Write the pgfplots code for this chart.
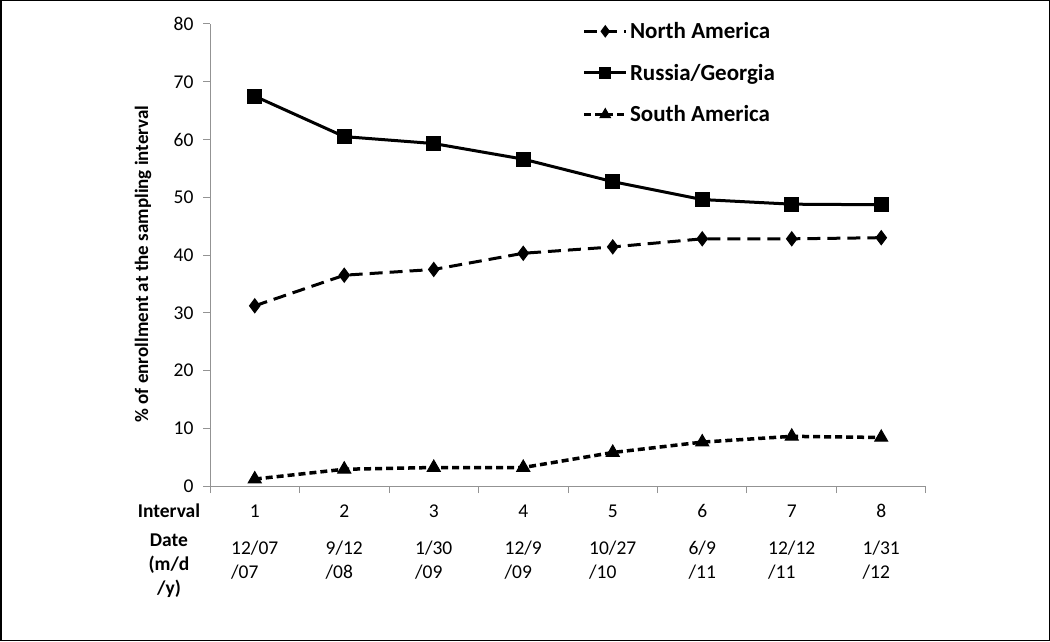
\documentclass[border=0pt]{standalone}
\usepackage{pgfplots}
\pgfplotsset{compat=1.18}
\usepackage{fontspec}
\setmainfont{Carlito}
\newcommand{\dl}[2]{\begin{tabular}[t]{@{}l@{}}#1\\#2\end{tabular}}
\begin{document}
\begin{tikzpicture}[x=1pt,y=1pt]
\useasboundingbox (0,0) rectangle (1050,641);
\draw[line width=1.5pt] (0.75,0.75) rectangle (1049.25,640.25);
\begin{axis}[
  scale only axis, width=716pt, height=462pt,
  at={(210pt,155pt)}, anchor=south west,
  xmin=0.5, xmax=8.5, ymin=0, ymax=80,
  axis lines=left,
  axis line style={-, draw=gray!85, line width=1pt},
  ytick={0,10,...,80},
  xtick={0.5,1.5,...,8.5},
  xticklabels={%
    {1\\[13pt]\dl{12/07}{/07}},
    {2\\[13pt]\dl{9/12}{/08}},
    {3\\[13pt]\dl{1/30}{/09}},
    {4\\[13pt]\dl{12/9}{/09}},
    {5\\[13pt]\dl{10/27}{/10}},
    {6\\[13pt]\dl{6/9}{/11}},
    {7\\[13pt]\dl{12/12}{/11}},
    {8\\[13pt]\dl{1/31}{/12}},
    {}},
  xticklabel style={xshift=44.75pt, align=center, anchor=north, yshift=-8pt},
  yticklabel style={xshift=-6pt},
  tick align=outside, major tick length=7pt,
  tick style={draw=gray!85, line width=1pt},
  ticklabel style={font=\fontsize{19.5}{24}\selectfont},
  /pgf/number format/assume math mode=true,
  clip=false,
  legend style={at={(rel axis cs:0.52,1.008)}, anchor=north west, draw=none, fill=none,
    font=\fontsize{23}{26}\selectfont\bfseries, row sep=20pt, inner sep=0pt},
  legend cell align=left,
  legend image code/.code={\draw[mark repeat=2, mark phase=2, #1, every mark/.append style={scale=0.8}] plot coordinates {(0pt,0pt) (21pt,0pt) (42pt,0pt)};},
]
\addplot[black, line width=3pt, dash pattern=on 13pt off 7pt, mark=diamond*, mark size=7pt, mark options={solid, line width=1pt}]
  coordinates {(1,31.2) (2,36.5) (3,37.5) (4,40.3) (5,41.4) (6,42.8) (7,42.8) (8,43.0)};
\addlegendentry{North America}
\addplot[black, line width=3pt, mark=square*, mark size=7pt, mark options={solid, line width=1pt}]
  coordinates {(1,67.5) (2,60.5) (3,59.3) (4,56.6) (5,52.7) (6,49.6) (7,48.8) (8,48.7)};
\addlegendentry{Russia/Georgia}
\addplot[black, line width=3.5pt, dash pattern=on 7pt off 4pt, mark=triangle*, mark size=7.5pt, mark options={solid, line width=1pt}]
  coordinates {(1,1.2) (2,2.9) (3,3.2) (4,3.2) (5,5.8) (6,7.6) (7,8.6) (8,8.4)};
\addlegendentry{South America}
\end{axis}
\node[rotate=90, font=\fontsize{19}{23}\selectfont\bfseries] at (143,377) {\% of enrollment at the sampling interval};
\node[anchor=base, font=\fontsize{19.5}{24}\selectfont\bfseries] at (169,124) {Interval};
\node[anchor=base, font=\fontsize{19.5}{24}\selectfont\bfseries] at (169,95) {Date};
\node[anchor=base, font=\fontsize{19.5}{24}\selectfont\bfseries] at (169,71) {(m/d};
\node[anchor=base, font=\fontsize{19.5}{24}\selectfont\bfseries] at (169,47) {/y)};
\end{tikzpicture}
\end{document}
